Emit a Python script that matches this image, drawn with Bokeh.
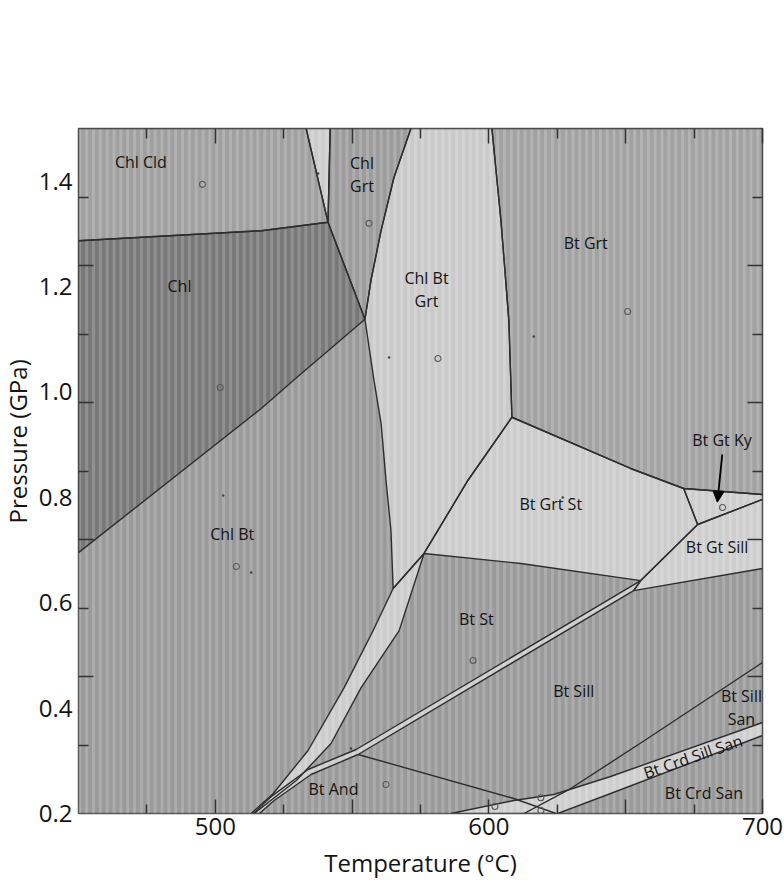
from bokeh.plotting import figure
from bokeh.models import LinearAxis, FixedTicker, Title, Arrow, NormalHead
from bokeh.core.properties import value
from bokeh.embed import file_html
from bokeh.resources import INLINE

# ---------------- axis data ----------------
T_MIN, T_MAX = 450, 700
P_MIN, P_MAX = 0.2, 1.5

t_major_ticks = [500, 550, 600, 650, 700]
t_minor_ticks = [475, 525, 575, 625, 675]
t_tick_labels = {500: "500", 550: "", 600: "600", 650: "", 700: "700"}

p_label_ticks = [0.2, 0.4, 0.6, 0.8, 1.0, 1.2, 1.4]
p_label_text = ["0.2", "0.4", "0.6", "0.8", "1.0", "1.2", "1.4"]
p_long_ticks = [0.46, 0.72, 0.98, 1.24]
p_short_ticks = [0.33, 0.59, 0.85, 1.11, 1.37]

# ---------------- phase fields (T degC, P GPa) ----------------
chl_cld_T = [450, 533.2, 541.2, 516.8, 450]
chl_cld_P = [1.5, 1.5, 1.322, 1.306, 1.287]

sliver_T = [533.2, 542.0, 541.2]
sliver_P = [1.5, 1.5, 1.322]

chl_grt_T = [542.0, 571.5, 565.3, 560.6, 556.9, 554.7, 541.2]
chl_grt_P = [1.5, 1.5, 1.407, 1.3065, 1.2116, 1.138, 1.322]

chl_T = [450, 516.8, 541.2, 554.7, 528.5, 516.8, 450]
chl_P = [1.287, 1.306, 1.322, 1.138, 1.0218, 0.9686, 0.695]

chl_bt_grt_T = [554.7, 556.9, 560.6, 565.3, 571.5, 601.1, 604.4, 607.3, 608.0, 608.4,
                592.3, 576.3, 565.0, 564.2, 562.4, 560.6, 558.0]
chl_bt_grt_P = [1.138, 1.2116, 1.3065, 1.407, 1.5, 1.5, 1.3254, 1.1357, 1.0218, 0.952,
                0.832, 0.6935, 0.627, 0.737, 0.832, 0.940, 1.0218]

bt_grt_T = [601.1, 700, 700, 671.2, 651.8, 608.4, 608.0, 607.3, 604.4]
bt_grt_P = [1.5, 1.5, 0.8054, 0.8168, 0.8548, 0.952, 1.0218, 1.1357, 1.3254]

bt_grt_st_T = [608.4, 651.8, 671.2, 676.3, 655.5, 611.7, 576.3, 592.3]
bt_grt_st_P = [0.952, 0.8548, 0.8168, 0.7485, 0.642, 0.6745, 0.6935, 0.832]

bt_gt_ky_T = [671.2, 700, 700, 676.3]
bt_gt_ky_P = [0.8168, 0.8054, 0.796, 0.7485]

bt_gt_sill_T = [676.3, 700, 700, 652.9, 655.5]
bt_gt_sill_P = [0.7485, 0.796, 0.665, 0.623, 0.642]

thin_band_T = [655.5, 551.5, 533.9, 520.4, 513.9, 516.1, 521.5, 535.0, 552.2, 652.9]
thin_band_P = [0.642, 0.3215, 0.2835, 0.232, 0.2, 0.2, 0.2247, 0.274, 0.312, 0.623]

wide_band_T = [565.0, 557.7, 547.1, 533.9, 521.2, 513.1, 514.2, 529.6, 542.3, 553.3, 567.2, 576.3]
wide_band_P = [0.627, 0.5473, 0.439, 0.3196, 0.238, 0.2, 0.2, 0.2626, 0.3329, 0.439, 0.547, 0.6935]

crd_band_T = [586.1, 609.1, 623.7, 644.5, 700, 700, 644.5, 625.2]
crd_band_P = [0.2, 0.2247, 0.236, 0.2702, 0.3727, 0.348, 0.238, 0.2]

# extra boundary lines between similar grey fields
and_sill_T = [552.2, 609.1, 624.5]
and_sill_P = [0.312, 0.2285, 0.2]
sill_san_T = [700, 658.0, 629.9, 612.8]
sill_san_P = [0.4866, 0.3423, 0.2474, 0.2]

field_T = [chl_cld_T, sliver_T, chl_grt_T, chl_T, chl_bt_grt_T, bt_grt_T, bt_grt_st_T,
           bt_gt_ky_T, bt_gt_sill_T, wide_band_T, thin_band_T, crd_band_T]
field_P = [chl_cld_P, sliver_P, chl_grt_P, chl_P, chl_bt_grt_P, bt_grt_P, bt_grt_st_P,
           bt_gt_ky_P, bt_gt_sill_P, wide_band_P, thin_band_P, crd_band_P]
field_colors = ["#a0a0a0", "#cccccc", "#9c9c9c", "#787878", "#cacaca", "#a2a2a2", "#cccccc",
                "#cecece", "#cecece", "#cccccc", "#cccccc", "#cecece"]

# ---------------- labels ----------------
region_labels = ["Chl Cld", "Chl", "Chl\nGrt", "Chl Bt\nGrt", "Bt Grt", "Bt Gt Ky", "Bt Grt St",
                 "Bt Gt Sill", "Chl Bt", "Bt St", "Bt Sill", "Bt Sill\nSan", "Bt Crd San", "Bt And"]
label_T = [472.8, 486.9, 553.6, 577.2, 635.4, 685.2, 622.6, 683.4, 506.2, 595.4, 631.0, 692.3, 678.6, 543.2]
label_P = [1.4355, 1.2002, 1.4128, 1.1945, 1.2818, 0.908, 0.7883, 0.7067, 0.7295, 0.570, 0.4334, 0.4012, 0.238, 0.2474]

band_label = ["Bt Crd Sill San"]
band_label_T = [674.6]
band_label_P = [0.308]

# sample points
circle_T = [495.3, 556.2, 581.4, 650.7, 501.8, 507.7, 594.2, 562.4, 602.2, 685.4, 619.0, 619.0]
circle_P = [1.394, 1.320, 1.0635, 1.1527, 1.0085, 0.6688, 0.4904, 0.255, 0.2133, 0.7808, 0.230, 0.2057]
dot_T = [563.5, 616.4, 502.9, 513.1, 537.6, 549.6, 627.0]
dot_P = [1.0654, 1.1053, 0.8035, 0.6574, 1.4147, 0.3234, 0.7997]

# arrow to Bt Gt Ky field
arrow_T = [685.3, 683.5]
arrow_P = [0.8813, 0.7908]

# ---------------- figure ----------------
p = figure(width=784, height=896, x_range=(T_MIN, T_MAX), y_range=(P_MIN, P_MAX),
           x_axis_location=None, y_axis_location=None,
           min_border_left=77, min_border_right=22, min_border_top=128, min_border_bottom=83,
           output_backend="svg", toolbar_location=None,
           background_fill_color="#9a9a9a", border_fill_color="white",
           outline_line_color="#555555", outline_line_width=1.5)
for g in p.grid:
    g.visible = False

FONT = "Open Sans"
TXT = "#141414"
TICK = "#333333"

# fills
p.patches(xs=field_T, ys=field_P, fill_color=field_colors, line_color=None)

# vertical stripe texture
p.quad(left=[T_MIN], right=[T_MAX], bottom=[P_MIN], top=[P_MAX], fill_alpha=0, line_color=None,
       hatch_pattern="vertical_line", hatch_color="white", hatch_alpha=0.18,
       hatch_weight=3, hatch_scale=6.85)

# boundaries
outline_T = [t + [t[0]] for t in field_T] + [and_sill_T, sill_san_T]
outline_P = [q + [q[0]] for q in field_P] + [and_sill_P, sill_san_P]
p.multi_line(xs=outline_T, ys=outline_P, line_color="#2e2e2e", line_width=1.4)

# sample points
p.scatter(x=circle_T, y=circle_P, size=6, marker="circle", fill_color=None,
          line_color="#5a5a5a", line_width=1.1)
p.scatter(x=dot_T, y=dot_P, size=2.5, marker="circle", fill_color="#444444", line_color=None)

# field labels
p.text(x=label_T, y=label_P, text=region_labels, text_font=value(FONT), text_font_size="16px",
       text_align="center", text_baseline="middle", text_color=TXT, text_line_height=1.05)
p.text(x=band_label_T, y=band_label_P, text=band_label, angle=0.33, text_font=value(FONT),
       text_font_size="16px", text_align="center", text_baseline="middle", text_color=TXT)

p.add_layout(Arrow(end=NormalHead(size=11, fill_color="black", line_color="black"),
                   x_start=arrow_T[0], y_start=arrow_P[0], x_end=arrow_T[1], y_end=arrow_P[1],
                   line_width=1.8, line_color="black"))

# ---------------- axes ----------------
def tick_only(axis):
    axis.major_tick_out = 0
    axis.minor_tick_out = 0
    axis.major_tick_in = 15
    axis.minor_tick_in = 10
    axis.major_tick_line_color = TICK
    axis.minor_tick_line_color = TICK
    axis.major_tick_line_width = 1.5
    axis.minor_tick_line_width = 1.5
    axis.axis_line_color = None
    axis.major_label_standoff = 0
    return axis

# bottom: labelled temperature axis
xb = LinearAxis(ticker=FixedTicker(ticks=t_major_ticks, minor_ticks=t_minor_ticks),
                major_label_overrides=t_tick_labels, axis_label="Temperature (°C)")
tick_only(xb)
xb.major_tick_in = 14
xb.minor_tick_in = 9
xb.major_label_standoff = 4
xb.major_label_text_font = FONT
xb.major_label_text_font_size = "24px"
xb.major_label_text_color = TXT
xb.axis_label_standoff = 8
xb.axis_label_text_font = FONT
xb.axis_label_text_font_size = "24px"
xb.axis_label_text_font_style = "normal"
xb.axis_label_text_color = TXT
p.add_layout(xb, "below")

# top: ticks only
xt = LinearAxis(ticker=FixedTicker(ticks=t_major_ticks, minor_ticks=t_minor_ticks),
                major_label_overrides={t: "" for t in t_major_ticks})
tick_only(xt)
p.add_layout(xt, "above")

# right: ticks only
yr = LinearAxis(ticker=FixedTicker(ticks=p_long_ticks, minor_ticks=p_short_ticks),
                major_label_overrides={t: "" for t in p_long_ticks})
tick_only(yr)
p.add_layout(yr, "right")

# left: ticks only (inner)
yt = LinearAxis(ticker=FixedTicker(ticks=p_long_ticks, minor_ticks=p_short_ticks),
                major_label_overrides={t: "" for t in p_long_ticks})
tick_only(yt)
p.add_layout(yt, "left")

# left: pressure labels (outer, no tick marks)
yl = LinearAxis(ticker=FixedTicker(ticks=p_label_ticks),
                major_label_overrides=dict(zip(p_label_ticks, p_label_text)))
yl.major_tick_in = 0
yl.major_tick_out = 0
yl.minor_tick_in = 0
yl.minor_tick_out = 0
yl.axis_line_color = None
yl.major_label_standoff = 6
yl.major_label_text_font = FONT
yl.major_label_text_font_size = "24px"
yl.major_label_text_color = TXT
p.add_layout(yl, "left")

# y-axis title (placed above the frame centre, as in the original figure)
p.add_layout(Title(text="Pressure (GPa)", align="left", offset=290, standoff=0,
                   vertical_align="top",
                   text_font=FONT, text_font_size="24px", text_font_style="normal",
                   text_line_height=0.85, text_color=TXT), "left")

open("out.html", "w").write(file_html(p, INLINE))
